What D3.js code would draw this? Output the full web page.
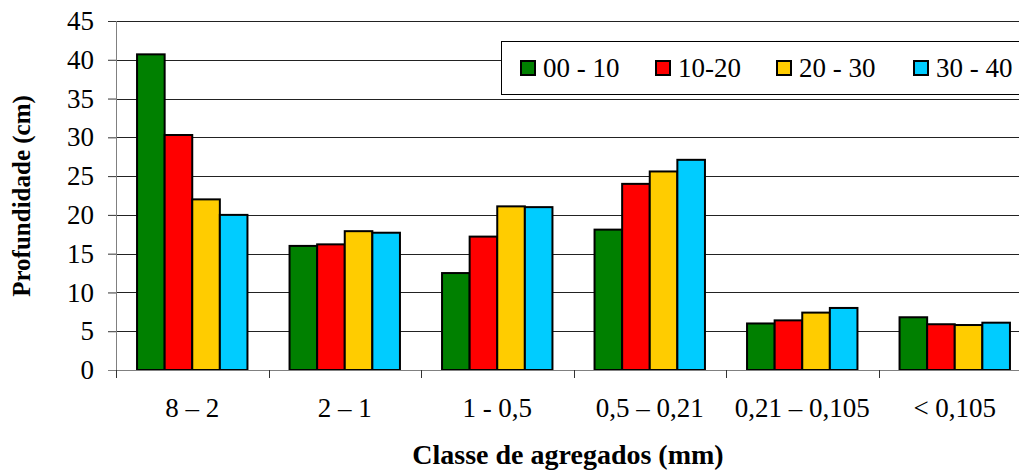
<!DOCTYPE html>
<html><head><meta charset="utf-8">
<script src="https://cdn.jsdelivr.net/npm/d3@7/dist/d3.min.js"></script>
</head><body style="margin:0">
<svg id="c" width="1019" height="472" style="display:block;font-family:'Liberation Serif'"></svg>
<script>
const categories = ["8 – 2", "2 – 1", "1 - 0,5", "0,5 – 0,21", "0,21 – 0,105", "< 0,105"];
const seriesNames = ["00 - 10", "10-20", "20 - 30", "30 - 40"];
const s00_10 = [40.7, 16.0, 12.5, 18.1, 6.0, 6.8];
const s10_20 = [30.3, 16.2, 17.2, 24.0, 6.4, 5.9];
const s20_30 = [22.0, 17.9, 21.1, 25.6, 7.4, 5.8];
const s30_40 = [20.0, 17.7, 21.0, 27.1, 8.0, 6.1];
const yTicks = [0, 5, 10, 15, 20, 25, 30, 35, 40, 45];
const colors = ["#008000", "#FF0000", "#FFCC00", "#00CCFF"];
const series = [s00_10, s10_20, s20_30, s30_40];

const svg = d3.select("#c");
const L = 116, R = 1031, T = 21, B = 370;

function txt(sel, size, bold) {
  return sel.attr("font-size", size).attr("font-family", "Liberation Serif")
    .style("font-family", "\"Liberation Serif\"").attr("font-weight", bold ? "bold" : null).attr("fill", "#000");
}

const x = d3.scaleBand().domain(categories).range([L, R]).paddingInner(0.276).paddingOuter(0.138);
const x1 = d3.scaleBand().domain(seriesNames).range([0, x.bandwidth()]);
const y = d3.scaleLinear().domain([0, 45]).range([B, T]);

// gridlines
svg.append("g").selectAll("line").data(yTicks.filter(d => d > 0)).join("line")
  .attr("x1", L).attr("x2", R).attr("y1", d => Math.round(y(d)) + 0.5).attr("y2", d => Math.round(y(d)) + 0.5)
  .attr("stroke", "#222").attr("stroke-width", 1);

// bars
const g = svg.append("g");
series.forEach((vals, si) => {
  g.selectAll(null).data(vals).join("rect")
    .attr("x", (d, i) => x(categories[i]) + x1(seriesNames[si]))
    .attr("y", d => y(d))
    .attr("width", x1.bandwidth())
    .attr("height", d => B - y(d))
    .attr("fill", colors[si]).attr("stroke", "#000").attr("stroke-width", 2);
});

// y axis
const yAxis = d3.axisLeft(y).tickValues(yTicks).tickSize(8).tickPadding(14);
const ya = svg.append("g").attr("transform", `translate(${L},0)`).call(yAxis);
ya.attr("font-family", "Liberation Serif").attr("font-size", 27);
ya.select(".domain").attr("stroke", "#808080").attr("d", `M0.5,${T}V${B + 7}`);
ya.selectAll(".tick line").attr("stroke", "#333").attr("x2", -8);
txt(ya.selectAll(".tick text"), 27, false);

// x axis
const xa = svg.append("g").attr("transform", `translate(0,${B})`);
xa.append("line").attr("x1", L - 8).attr("x2", R).attr("y1", 0.5).attr("y2", 0.5).attr("stroke", "#808080");
const bounds = d3.range(categories.length + 1).map(i => L + i * (R - L) / categories.length);
xa.selectAll("line.tk").data(bounds).join("line").attr("class", "tk")
  .attr("x1", d => Math.round(d) + 0.5).attr("x2", d => Math.round(d) + 0.5).attr("y1", 0).attr("y2", 8).attr("stroke", "#333");
txt(xa.selectAll("text").data(categories).join("text")
  .attr("x", d => x(d) + x.bandwidth() / 2).attr("y", 47)
  .attr("text-anchor", "middle"), 27, false).text(d => d);

// titles
txt(svg.append("text").attr("transform", "translate(30,196) rotate(-90)").attr("text-anchor", "middle"), 25, true)
  .text("Profundidade (cm)");
txt(svg.append("text").attr("x", 568).attr("y", 464).attr("text-anchor", "middle"), 28, true)
  .text("Classe de agregados (mm)");

// legend
const lg = svg.append("g");
lg.append("rect").attr("x", 501.5).attr("y", 41.5).attr("width", 560).attr("height", 53)
  .attr("fill", "#fff").attr("stroke", "#000").attr("stroke-width", 1);
const lx = [521, 656, 777, 914];
seriesNames.forEach((n, i) => {
  lg.append("rect").attr("x", lx[i]).attr("y", 61).attr("width", 14).attr("height", 14)
    .attr("fill", colors[i]).attr("stroke", "#000").attr("stroke-width", 2);
  txt(lg.append("text").attr("x", lx[i] + 22).attr("y", 77), 27, false).text(n);
});
</script>
</body></html>
